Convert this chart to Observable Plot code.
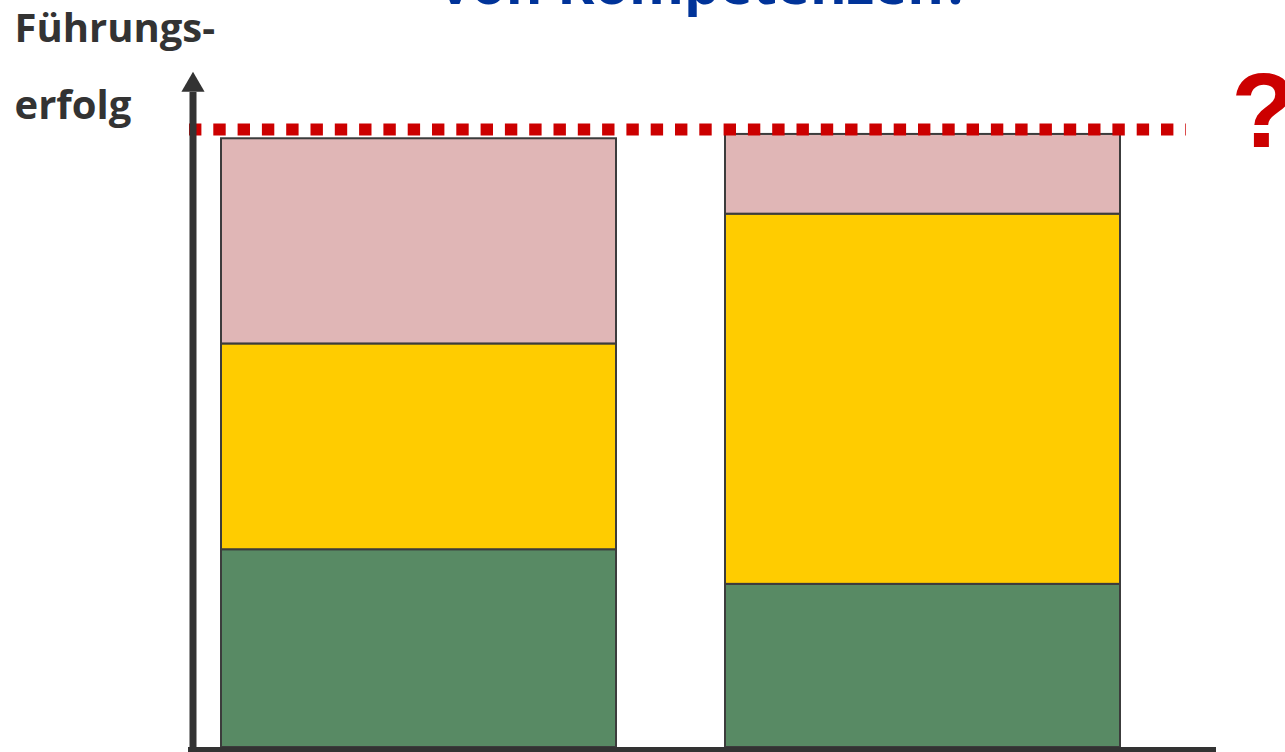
<!DOCTYPE html>
<html><head><meta charset="utf-8">
<script src="https://cdn.jsdelivr.net/npm/d3@7"></script>
<script src="https://cdn.jsdelivr.net/npm/@observablehq/plot@0.6"></script>
<style>html,body{margin:0;padding:0;background:#fff;overflow:hidden}</style>
</head><body><div id="chart"></div>
<script>
const categories = ["Führungskraft A", "Führungskraft B"];
const segments = ["Kompetenz 1", "Kompetenz 2", "Kompetenz 3"];
const segmentColors = ["#588a64", "#ffcc00", "#e0b6b6"];
const valuesBottom = [32.0, 26.4];
const valuesMiddle = [33.3, 59.9];
const valuesTop = [33.2, 12.9];
const targetLevel = [100];
const titleText = "von Kompetenzen?";
const yLabelLines = ["Führungs-", "erfolg"];
const questionMark = "?";

const rows = [];
categories.forEach((c, i) => {
  rows.push({cat: c, seg: segments[0], value: valuesBottom[i]});
  rows.push({cat: c, seg: segments[1], value: valuesMiddle[i]});
  rows.push({cat: c, seg: segments[2], value: valuesTop[i]});
});

const W = 1285, H = 752;
const axisColor = "#333333";
const axisX = 192.5;

const chart = Plot.plot({
  width: W, height: H,
  marginTop: 0, marginBottom: 0, marginLeft: 0, marginRight: 0,
  style: {fontFamily: "'Open Sans', sans-serif", background: "#fff", overflow: "visible"},
  x: {domain: categories, range: [221, 1120], paddingInner: 0.2163, paddingOuter: 0, axis: null},
  y: {domain: [0, 100], range: [747, 129], axis: null},
  color: {domain: segments, range: segmentColors},
  marks: [
    Plot.barY(rows, {x: "cat", y: "value", fill: "seg", stroke: "#3c3c3c", strokeWidth: 2}),
    // target line
    Plot.ruleY(targetLevel, {stroke: "#cc0000", strokeWidth: 12, strokeDasharray: "12.4,11.9", insetLeft: 189, insetRight: 99}),
    // x axis
    Plot.ruleY([-0.5], {stroke: axisColor, strokeWidth: 7, insetLeft: 188, insetRight: 69}),
    // y axis
    Plot.ruleX([0], {x: null, y1: -0.8, y2: 106, stroke: axisColor, strokeWidth: 7, dx: axisX - W / 2}),
    Plot.dot([0], {x: null, y: 107.2, symbol: "triangle", r: 8.6, fill: axisColor, stroke: null, dx: axisX - W / 2}),
    // y label
    Plot.text([yLabelLines[0]], {frameAnchor: "top-left", textAnchor: "start", lineAnchor: "bottom", dx: 14, dy: 41, fontSize: 40, fontWeight: 700, fill: axisColor}),
    Plot.text([yLabelLines[1]], {frameAnchor: "top-left", textAnchor: "start", lineAnchor: "bottom", dx: 14, dy: 118, fontSize: 40, fontWeight: 700, fill: axisColor}),
    // title (cut off at top)
    Plot.text([titleText], {frameAnchor: "top", textAnchor: "middle", lineAnchor: "bottom", dx: 62, dy: 3, fontSize: 56, fontWeight: 700, fill: "#003399"}),
    // question mark
    Plot.text([questionMark], {frameAnchor: "top-right", textAnchor: "middle", lineAnchor: "bottom", dx: -22, dy: 146, fontSize: 106, fontWeight: 900, fill: "#cc0000", fontFamily: "'Liberation Sans', Arial, sans-serif"})
  ]
});
document.getElementById("chart").appendChild(chart);
</script>
</body></html>
